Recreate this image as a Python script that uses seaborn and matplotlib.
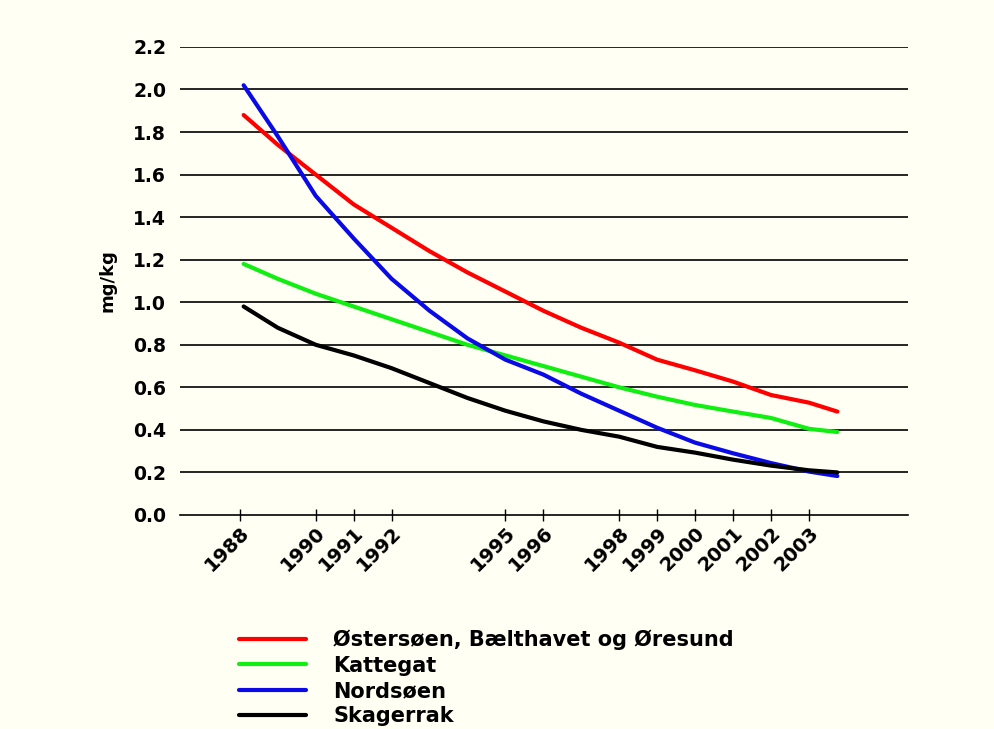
import pandas as pd
import matplotlib
matplotlib.use("Agg")
import matplotlib.pyplot as plt
import seaborn as sns

# data (mg/kg)
years = [1988.1, 1989, 1990, 1991, 1992, 1993, 1994, 1995, 1996, 1997,
         1998, 1999, 2000, 2001, 2002, 2003, 2003.75]
oster = [1.88, 1.74, 1.60, 1.46, 1.35, 1.24, 1.14, 1.05, 0.96, 0.88,
         0.81, 0.73, 0.68, 0.627, 0.564, 0.528, 0.486]
kattegat = [1.18, 1.11, 1.04, 0.98, 0.92, 0.86, 0.80, 0.75, 0.70, 0.65,
            0.60, 0.556, 0.517, 0.486, 0.456, 0.405, 0.39]
nordsoen = [2.02, 1.78, 1.50, 1.30, 1.11, 0.96, 0.83, 0.73, 0.66, 0.57,
            0.49, 0.41, 0.34, 0.29, 0.244, 0.204, 0.183]
skagerrak = [0.98, 0.88, 0.80, 0.75, 0.69, 0.62, 0.55, 0.49, 0.44, 0.40,
             0.368, 0.32, 0.293, 0.26, 0.232, 0.21, 0.20]

names = ["Østersøen, Bælthavet og Øresund", "Kattegat", "Nordsøen", "Skagerrak"]
colors = ["#ff0000", "#11ee11", "#0a0ae6", "#000000"]
tick_years = [1988, 1990, 1991, 1992, 1995, 1996, 1998, 1999, 2000, 2001, 2002, 2003]
y_ticks = [0.0, 0.2, 0.4, 0.6, 0.8, 1.0, 1.2, 1.4, 1.6, 1.8, 2.0, 2.2]

rows = []
for name, vals in zip(names, [oster, kattegat, nordsoen, skagerrak]):
    for x, v in zip(years, vals):
        rows.append({"year": x, "value": v, "series": name})
df = pd.DataFrame(rows)

bg = "#fffff4"
sns.set_style("white")
plt.rcParams["font.family"] = ["DejaVu Sans"]
plt.rcParams["text.color"] = "black"
plt.rcParams["xtick.color"] = "black"
plt.rcParams["ytick.color"] = "black"
plt.rcParams["axes.labelcolor"] = "black"

fig = plt.figure(figsize=(9.94, 7.29), dpi=100, facecolor=bg)
ax = fig.add_axes([0.181, 0.2936, 0.732, 0.642])
ax.set_facecolor(bg)

sns.lineplot(data=df, x="year", y="value", hue="series", hue_order=names,
             palette=colors, linewidth=3, sort=False, legend=False, ax=ax)

ax.set_xlim(1986.42, 2005.6)
ax.set_ylim(0, 2.2)
ax.set_yticks(y_ticks)
ax.set_yticklabels([f"{t:.1f}" for t in y_ticks], fontsize=13.5, fontweight="bold")
ax.set_xticks(tick_years)
ax.set_xticklabels([str(t) for t in tick_years], rotation=45, ha="right",
                   rotation_mode="anchor", fontsize=14, fontweight="bold")
ax.tick_params(axis="x", bottom=True, direction="inout", length=8, width=1,
               color="black", pad=2)
ax.tick_params(axis="y", left=False, length=0, pad=10)

for t in y_ticks[1:]:
    ax.axhline(t, color="black", linewidth=1.2, zorder=0)

for s in ["top", "right", "left"]:
    ax.spines[s].set_visible(False)
ax.spines["bottom"].set_color("black")
ax.spines["bottom"].set_linewidth(1.2)

ax.set_xlabel("")
ax.set_ylabel("mg/kg", fontsize=13, fontweight="bold")
ax.yaxis.set_label_coords(-0.087, 0.5)

handles = ax.get_lines()[:4]
fig.legend(handles, names, loc="upper left", bbox_to_anchor=(0.222, 0.162),
           frameon=False, handlelength=3.2, handletextpad=1.3,
           labelspacing=0.26, prop={"size": 15, "weight": "bold"})

fig.savefig("out.png", dpi=100, facecolor=bg)
